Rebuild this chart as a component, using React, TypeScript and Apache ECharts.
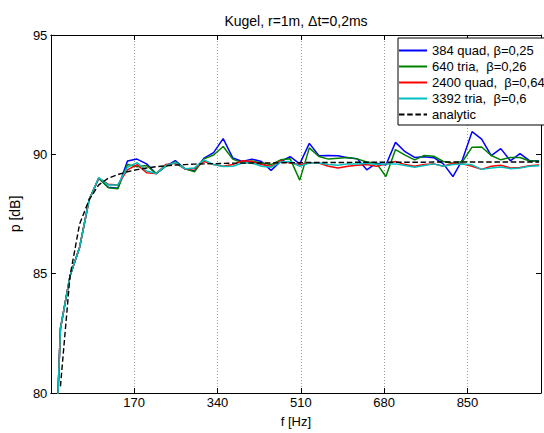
import React, { useEffect, useRef } from "react";
import * as echarts from "echarts";

const TITLE = "Kugel, r=1m, \u0394t=0,2ms";
const X_LABEL = "f [Hz]";
const Y_LABEL = "p [dB]";
const X_TICKS = [170, 340, 510, 680, 850];
const Y_TICKS = [80, 85, 90, 95];
const X_MIN = 0;
const X_MAX = 1000;
const DF = 19.53125; // frequency step [Hz]

const NAMES = [
  "384 quad, \u03b2=0,25",
  "640 tria,  \u03b2=0,26",
  "2400 quad,  \u03b2=0,64",
  "3392 tria,  \u03b2=0,6",
  "analytic",
];
const COLORS = ["#0000ff", "#008000", "#ff0000", "#00bfbf", "#000000"];

const QUAD384 = [
  72, 82.7, 84.9, 86.1, 88.1, 89.0, 88.62, 88.58, 89.72, 89.8,
  89.6, 89.19, 89.5, 89.74, 89.39, 89.3, 89.84, 90.07, 90.66, 89.85,
  89.7, 89.8, 89.7, 89.33, 89.7, 89.9, 89.6, 90.46, 89.94, 89.95,
  89.94, 89.86, 89.82, 89.35, 89.63, 89.55, 90.5, 90.11, 89.87, 89.9,
  89.86, 89.6, 89.07, 89.78, 90.95, 90.64, 89.95, 90.24, 89.73, 90.03,
  89.74, 89.73,
];
const TRIA640 = [
  72, 82.7, 84.9, 86.1, 88.1, 89.0, 88.6, 88.56, 89.57, 89.48,
  89.53, 89.19, 89.5, 89.68, 89.4, 89.27, 89.81, 89.97, 90.33, 89.8,
  89.64, 89.72, 89.64, 89.57, 89.77, 89.81, 88.92, 90.27, 89.91, 89.8,
  89.84, 89.87, 89.81, 89.68, 89.63, 89.07, 90.2, 89.97, 89.77, 89.95,
  89.92, 89.7, 89.63, 89.7, 90.3, 90.31, 89.95, 89.77, 89.87, 89.87,
  89.72, 89.72,
];
const QUAD2400 = [
  72, 82.7, 84.9, 86.1, 88.1, 89.0, 88.75, 88.72, 89.35, 89.57,
  89.23, 89.2, 89.57, 89.63, 89.39, 89.4, 89.7, 89.57, 89.5, 89.57,
  89.73, 89.7, 89.57, 89.5, 89.73, 89.64, 89.57, 89.64, 89.64, 89.5,
  89.43, 89.5, 89.54, 89.57, 89.5, 89.6, 89.7, 89.57, 89.5, 89.57,
  89.6, 89.5, 89.63, 89.6, 89.5, 89.37, 89.5, 89.54, 89.43, 89.45,
  89.52, 89.55,
];
const TRIA3392 = [
  72, 82.7, 84.9, 86.1, 88.1, 89.02, 88.72, 88.72, 89.46, 89.65,
  89.3, 89.2, 89.53, 89.66, 89.4, 89.43, 89.77, 89.57, 89.49, 89.5,
  89.64, 89.64, 89.5, 89.46, 89.68, 89.7, 89.5, 89.64, 89.64, 89.57,
  89.54, 89.6, 89.6, 89.63, 89.57, 89.6, 89.6, 89.53, 89.46, 89.53,
  89.6, 89.5, 89.57, 89.6, 89.56, 89.37, 89.43, 89.47, 89.4, 89.43,
  89.5, 89.52,
];
const ANALYTIC = [
  null, 80.28, 84.9, 87.08, 88.1, 88.72, 89.0, 89.15, 89.27, 89.36,
  89.43, 89.48, 89.52, 89.55, 89.57, 89.59, 89.6, 89.61, 89.62, 89.63,
  89.63, 89.64, 89.64, 89.64, 89.65, 89.65, 89.65, 89.66, 89.66, 89.66,
  89.66, 89.66, 89.67, 89.67, 89.67, 89.67, 89.67, 89.67, 89.67, 89.67,
  89.68, 89.68, 89.68, 89.68, 89.68, 89.68, 89.68, 89.68, 89.68, 89.68,
  89.68, 89.68,
];

const SERIES_VALUES = [QUAD384, TRIA640, QUAD2400, TRIA3392, ANALYTIC];
const FONT = "'Liberation Sans', Arial, Helvetica, sans-serif";

export default function App() {
  const ref = useRef<HTMLDivElement>(null);

  useEffect(() => {
    if (!ref.current) return;
    const chart = echarts.init(ref.current, undefined, { renderer: "svg", width: 544, height: 433 });

    const series = SERIES_VALUES.map((vals, i) => ({
      name: NAMES[i],
      type: "line",
      xAxisIndex: 0,
      yAxisIndex: 0,
      data: vals.map((v, k) => [k * DF, v]),
      showSymbol: false,
      symbol: "none",
      clip: true,
      connectNulls: false,
      lineStyle: {
        color: COLORS[i],
        width: i === 4 ? 1.4 : 1.5,
        type: i === 4 ? [5.5, 2.7] : "solid",
      },
      itemStyle: { color: COLORS[i] },
      z: 2 + i,
    }));

    const xLabelFmt = (v: number) => (X_TICKS.includes(Math.round(v)) ? String(Math.round(v)) : "");
    const yLabelFmt = (v: number) => (Y_TICKS.includes(Math.round(v)) ? String(Math.round(v)) : "");

    chart.setOption({
      animation: false,
      backgroundColor: "#ffffff",
      textStyle: { fontFamily: FONT },
      grid: { left: 44, top: 35, width: 504, height: 369, containLabel: false },
      legend: {
        orient: "vertical",
        left: 398,
        top: 38,
        itemWidth: 28,
        itemHeight: 12,
        itemGap: 3,
        padding: [6, 2, 4, 0],
        borderColor: "#000",
        borderWidth: 1,
        backgroundColor: "#fff",
        itemStyle: { opacity: 0, color: "rgba(0,0,0,0)", borderWidth: 0 },
        textStyle: { fontSize: 13, color: "#000", fontFamily: FONT },
        data: NAMES,
      },
      xAxis: [
        {
          type: "value",
          position: "bottom",
          min: X_MIN,
          max: X_MAX,
          interval: 170,
          name: X_LABEL,
          nameLocation: "middle",
          nameGap: 22,
          nameTextStyle: { fontSize: 13, color: "#000", fontFamily: FONT },
          axisLine: { show: true, onZero: false, lineStyle: { color: "#000", width: 1 } },
          axisTick: { show: true, inside: true, length: 5, lineStyle: { color: "#000" } },
          axisLabel: { show: true, margin: 3, fontSize: 13, color: "#000", fontFamily: FONT, formatter: xLabelFmt },
          splitLine: { show: true, lineStyle: { color: "#9a9a9a", width: 1, type: [1, 2] } },
        },
        {
          type: "value",
          position: "top",
          min: X_MIN,
          max: X_MAX,
          interval: 170,
          axisLine: { show: true, onZero: false, lineStyle: { color: "#000", width: 1 } },
          axisTick: { show: true, inside: true, length: 5, lineStyle: { color: "#000" } },
          axisLabel: { show: false },
          splitLine: { show: false },
        },
      ],
      yAxis: [
        {
          type: "value",
          position: "left",
          min: 80,
          max: 95,
          interval: 5,
          name: Y_LABEL,
          nameLocation: "middle",
          nameGap: 20,
          nameTextStyle: { fontSize: 14, color: "#000", fontFamily: FONT },
          axisLine: { show: true, onZero: false, lineStyle: { color: "#000", width: 1 } },
          axisTick: { show: true, inside: true, length: 5, lineStyle: { color: "#000" } },
          axisLabel: { show: true, margin: 3.5, fontSize: 13, color: "#000", fontFamily: FONT, formatter: yLabelFmt },
          splitLine: { show: false },
        },
        {
          type: "value",
          position: "right",
          min: 80,
          max: 95,
          interval: 5,
          axisLine: { show: true, onZero: false, lineStyle: { color: "#000", width: 1 } },
          axisTick: { show: true, inside: true, length: 5, lineStyle: { color: "#000" } },
          axisLabel: { show: false },
          splitLine: { show: false },
        },
      ],
      graphic: [
        {
          type: "text",
          x: 296,
          y: 21,
          style: {
            text: TITLE,
            fill: "#000",
            font: `14px ${FONT}`,
            textAlign: "center",
            textVerticalAlign: "middle",
          },
        },
      ],
      series,
    });

    return () => chart.dispose();
  }, []);

  return (
    <div
      ref={ref}
      style={{ position: "fixed", left: 0, top: 0, width: 544, height: 433, background: "#fff" }}
    />
  );
}
